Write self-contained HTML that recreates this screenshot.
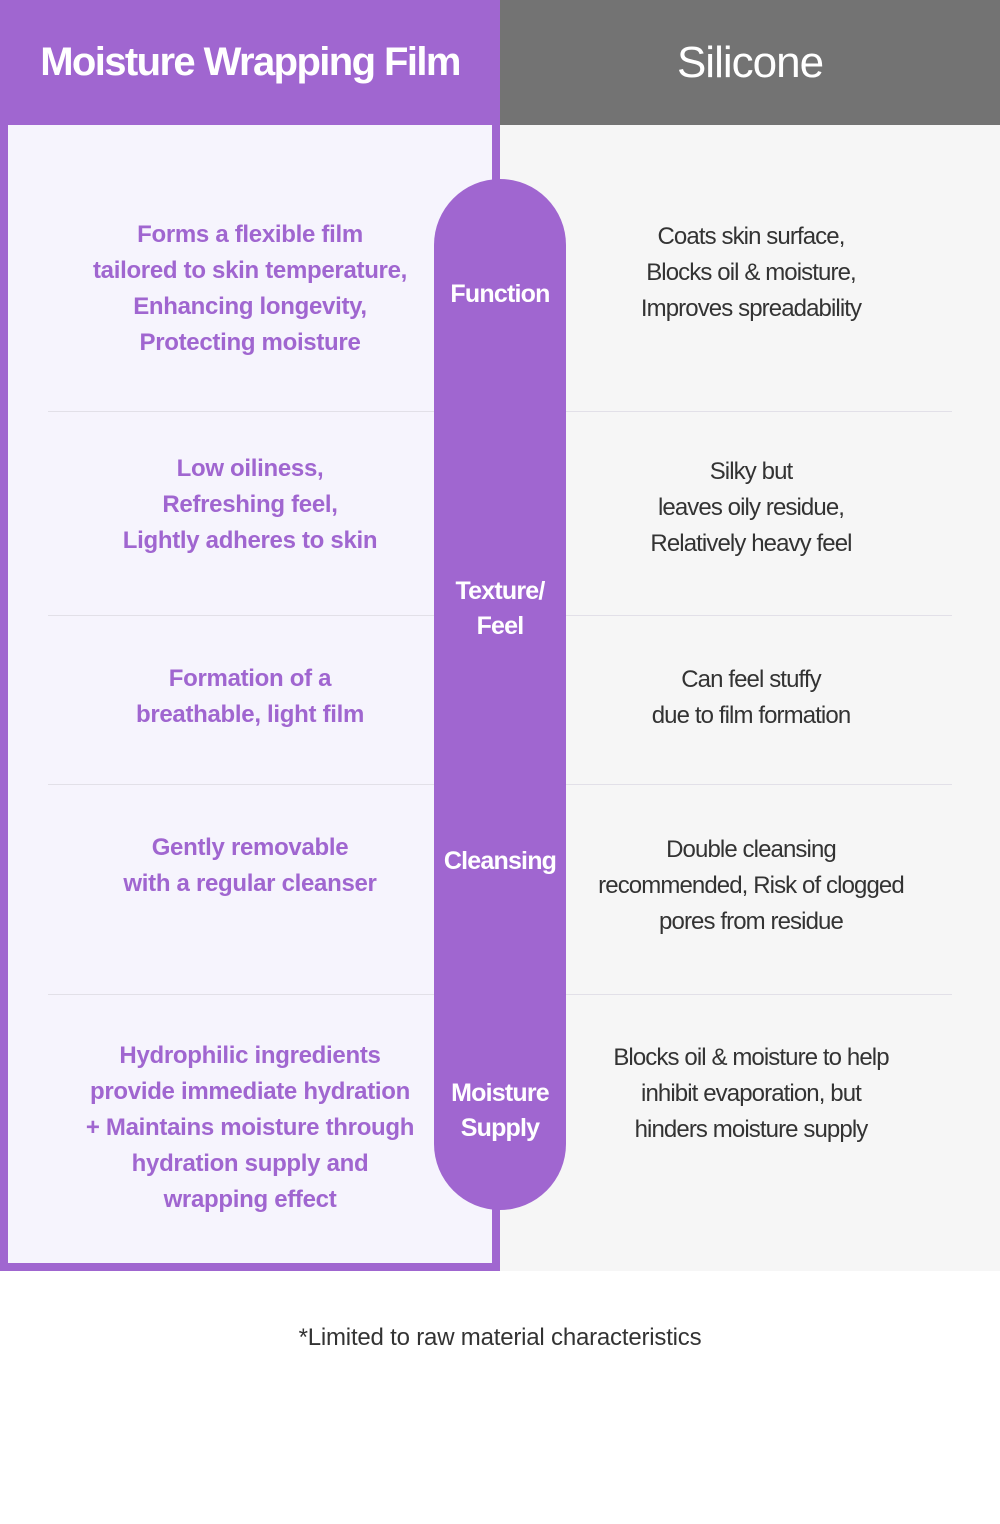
<!DOCTYPE html>
<html><head><style>
body{margin:0;width:1000px;height:1524px;background:#fff;position:relative;font-family:"Liberation Sans","Noto Sans CJK KR",sans-serif;overflow:hidden}
div{position:absolute;box-sizing:border-box}
.l{left:8px;width:484px;text-align:center;color:#a066d0;font-weight:bold;font-size:24px;line-height:36px;letter-spacing:-0.3px}
.r{left:566px;width:370px;text-align:center;color:#333;font-size:24px;line-height:36px;letter-spacing:-0.9px}
.hl{height:1px;background:#e2e0e8}
.p{left:434px;width:132px;text-align:center;color:#fff;font-weight:bold;font-size:25px;line-height:35px;letter-spacing:-0.8px}
</style></head><body>
<div style="left:0;top:0;width:500px;height:125px;background:#a066d0;color:#fff;font-weight:bold;font-size:40px;line-height:125px;text-align:center;letter-spacing:-1.6px">Moisture Wrapping Film</div>
<div style="left:500px;top:0;width:500px;height:125px;background:#737373;color:#fff;font-size:44px;line-height:125px;text-align:center;letter-spacing:-1px">Silicone</div>
<div style="left:0;top:125px;width:500px;height:1146px;background:#a066d0"></div>
<div style="left:8px;top:125px;width:484px;height:1138px;background:#f6f4fd"></div>
<div style="left:500px;top:125px;width:500px;height:1146px;background:#f6f6f6"></div>
<div class="hl" style="left:48px;top:411px;width:904px"></div>
<div class="hl" style="left:48px;top:615px;width:904px"></div>
<div class="hl" style="left:48px;top:784px;width:904px"></div>
<div class="hl" style="left:48px;top:994px;width:904px"></div>
<div style="left:434px;top:179px;width:132px;height:1031px;border-radius:66px;background:#a066d0"></div>
<div class="p" style="top:277px">Function</div>
<div class="p" style="top:574px">Texture/<br>Feel</div>
<div class="p" style="top:844px">Cleansing</div>
<div class="p" style="top:1076px">Moisture<br>Supply</div>
<div class="l" style="top:217px">Forms a flexible film<br>tailored to skin temperature,<br>Enhancing longevity,<br>Protecting moisture</div>
<div class="l" style="top:451px">Low oiliness,<br>Refreshing feel,<br>Lightly adheres to skin</div>
<div class="l" style="top:661px">Formation of a<br>breathable, light film</div>
<div class="l" style="top:830px">Gently removable<br>with a regular cleanser</div>
<div class="l" style="top:1038px">Hydrophilic ingredients<br>provide immediate hydration<br>+ Maintains moisture through<br>hydration supply and<br>wrapping effect</div>
<div class="r" style="top:219px">Coats skin surface,<br>Blocks oil &amp; moisture,<br>Improves spreadability</div>
<div class="r" style="top:454px">Silky but<br>leaves oily residue,<br>Relatively heavy feel</div>
<div class="r" style="top:662px">Can feel stuffy<br>due to film formation</div>
<div class="r" style="top:832px">Double cleansing<br>recommended, Risk of clogged<br>pores from residue</div>
<div class="r" style="top:1040px">Blocks oil &amp; moisture to help<br>inhibit evaporation, but<br>hinders moisture supply</div>
<div style="left:0;top:1320px;width:1000px;text-align:center;color:#333;font-size:24px;line-height:36px;letter-spacing:-0.2px">*Limited to raw material characteristics</div>
</body></html>
